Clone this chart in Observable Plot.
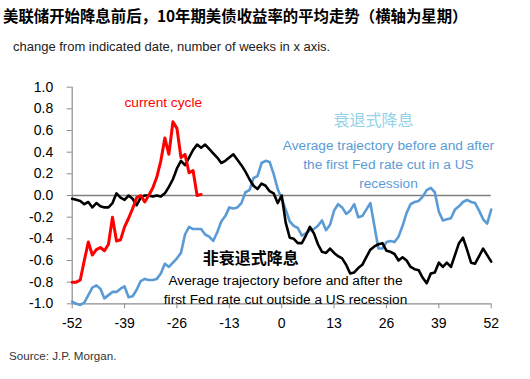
<!DOCTYPE html>
<html>
<head>
<meta charset="utf-8">
<script src="https://cdn.jsdelivr.net/npm/d3@7"></script>
<script src="https://cdn.jsdelivr.net/npm/@observablehq/plot@0.6"></script>
<style>
  body { margin:0; width:530px; height:379px; background:#fff; position:relative; overflow:hidden; font-family:'Liberation Sans', Arial, sans-serif; }
  #title { position:absolute; left:3px; top:5px; font:bold 15.4px 'Noto Sans CJK SC', sans-serif; line-height:20px; color:#000; white-space:nowrap; }
  #subtitle { position:absolute; left:13px; top:39px; font-size:13px; line-height:16px; color:#222; white-space:nowrap; }
  #chart { position:absolute; left:0; top:60px; }
  #source { position:absolute; left:9px; top:348px; font-size:11.6px; line-height:16px; color:#333; white-space:nowrap; }
</style>
</head>
<body>
<div id="title">美联储开始降息前后，10年期美债收益率的平均走势（横轴为星期）</div>
<div id="subtitle">change from indicated date, number of weeks in x axis.</div>
<div id="chart"></div>
<div id="source">Source: J.P. Morgan.</div>
<script>
// weeks relative to first Fed rate cut
const weeks = d3.range(-52, 53);

// Non-recession cuts (black), weeks -52..52
const nonRecession = [
  -0.03,-0.04,-0.05,-0.08,-0.06,-0.11,-0.07,-0.10,-0.11,-0.11,
  -0.07,0.02,-0.02,-0.04,0.00,-0.03,-0.09,-0.02,0.00,0.00,
  -0.01,0.00,-0.01,0.02,0.08,0.15,
  0.25,0.32,0.28,0.35,0.42,0.47,0.44,0.47,0.43,0.39,
  0.35,0.30,0.32,0.35,0.38,0.33,0.28,0.22,0.15,0.09,
  0.06,0.11,0.09,0.04,0.02,-0.07,
  0.00,
  -0.25,-0.39,-0.40,-0.44,-0.44,-0.37,-0.29,-0.35,-0.45,-0.52,
  -0.53,-0.49,-0.53,-0.56,-0.58,-0.64,-0.72,-0.71,-0.67,-0.64,
  -0.57,-0.50,-0.47,-0.45,-0.44,-0.51,-0.52,-0.54,-0.60,-0.57,
  -0.60,-0.66,-0.68,-0.69,-0.76,-0.81,-0.72,-0.71,-0.62,-0.66,
  -0.62,-0.66,-0.55,-0.44,-0.39,-0.50,-0.62,-0.63,-0.56,-0.49,
  -0.55,-0.61
];

// Recession cuts (blue), weeks -52..52
const recession = [
  -0.98,-1.00,-1.01,-0.99,-0.92,-0.85,-0.83,-0.86,-0.95,-0.92,
  -0.89,-0.89,-0.86,-0.84,-0.94,-0.93,-0.87,-0.79,-0.77,-0.78,
  -0.78,-0.77,-0.72,-0.63,-0.66,-0.62,
  -0.58,-0.53,-0.36,-0.29,-0.31,-0.31,-0.31,-0.36,-0.38,-0.42,
  -0.34,-0.24,-0.19,-0.11,-0.12,-0.11,-0.07,0.03,0.05,0.16,
  0.18,0.30,0.32,0.31,0.20,0.06,
  -0.03,
  -0.13,-0.24,-0.28,-0.30,-0.37,-0.35,-0.32,-0.31,-0.28,-0.23,
  -0.32,-0.27,-0.14,-0.08,-0.11,-0.17,-0.14,-0.08,-0.20,-0.19,
  -0.13,-0.07,-0.28,-0.49,-0.49,-0.43,-0.42,-0.43,-0.38,-0.28,
  -0.16,-0.08,-0.06,-0.05,-0.01,0.05,0.07,0.03,-0.15,-0.23,
  -0.22,-0.21,-0.13,-0.10,-0.06,-0.04,-0.06,-0.07,-0.14,-0.22,
  -0.26,-0.13
];

// Current cycle (red), weeks -52..-20
const currentWeeks = d3.range(-52, -19);
const current = [
  -0.80,-0.80,-0.78,-0.60,-0.43,-0.55,-0.50,-0.48,-0.51,-0.45,
  -0.20,-0.42,-0.41,-0.29,-0.21,-0.12,-0.02,0.00,-0.06,0.00,
  0.07,0.17,0.32,0.53,0.38,0.68,0.62,0.35,0.38,0.21,
  0.23,0.00,0.01
];

const xTicks = [-52, -39, -26, -13, 0, 13, 26, 39, 52];
const yTicks = [-1.0, -0.8, -0.6, -0.4, -0.2, 0.0, 0.2, 0.4, 0.6, 0.8, 1.0];

const labelCurrent = ["current cycle"];
const labelRecessionCn = ["衰退式降息"];
const labelRecessionEn = ["Average trajectory before and after\nthe first Fed rate cut in a US\nrecession"];
const labelNonRecessionCn = ["非衰退式降息"];
const labelNonRecessionEn = ["Average trajectory before and after the\nfirst Fed rate cut outside a US recession"];

const latin = "'Liberation Sans', Arial, sans-serif";
const cjk = "'Noto Sans CJK SC', sans-serif";

const chart = Plot.plot({
  width: 530,
  height: 280,
  marginTop: 26.7,
  marginBottom: 36.7,
  marginLeft: 71.7,
  marginRight: 39.3,
  x: { domain: [-52, 52] },
  y: { domain: [-1, 1] },
  style: { fontFamily: latin, fontSize: "14px", color: "#000", background: "#fff", overflow: "visible" },
  marks: [
    Plot.axisX({ ticks: xTicks, tickSize: 5, tickPadding: 9, stroke: "#8c8c8c", fill: "#000", tickFormat: d => String(d), label: null, fontSize: 14 }),
    Plot.axisY({ ticks: yTicks, tickSize: 5, tickPadding: 14, stroke: "#8c8c8c", fill: "#000", tickFormat: d => d.toFixed(1), label: null, fontSize: 14 }),
    Plot.ruleX([-52], { stroke: "#8c8c8c", strokeWidth: 1.2 }),
    Plot.ruleY([-1], { stroke: "#8c8c8c", strokeWidth: 1.2 }),
    Plot.ruleY([0], { stroke: "#7f7f7f", strokeWidth: 1.4 }),
    Plot.line(weeks, { x: d => d, y: (d, i) => recession[i], stroke: "#5b9bd5", strokeWidth: 2.6, strokeLinejoin: "round" }),
    Plot.line(weeks, { x: d => d, y: (d, i) => nonRecession[i], stroke: "#000", strokeWidth: 2.6, strokeLinejoin: "round" }),
    Plot.line(currentWeeks, { x: d => d, y: (d, i) => current[i], stroke: "#ff0000", strokeWidth: 3, strokeLinejoin: "round" }),
    Plot.text(labelCurrent, { x: -29.4, y: 0.86, text: d => d, fill: "#ff0000", fontSize: 13.7, fontFamily: latin }),
    Plot.text(labelRecessionCn, { x: 22.8, y: 0.69, text: d => d, fill: "#93d3e8", fontSize: 16, fontFamily: cjk }),
    Plot.text(labelRecessionEn, { x: 26.5, y: 0.30, text: d => d, fill: "#5b9bd5", fontSize: 13.7, lineHeight: 1.36, fontFamily: latin }),
    Plot.text(labelNonRecessionCn, { x: -7.7, y: -0.585, text: d => d, fill: "#000", fontSize: 16, fontWeight: "bold", fontFamily: cjk }),
    Plot.text(labelNonRecessionEn, { x: 0.95, y: -0.86, text: d => d, fill: "#000", fontSize: 13.7, lineHeight: 1.39, fontFamily: latin })
  ]
});
document.getElementById("chart").appendChild(chart);
</script>
</body>
</html>
